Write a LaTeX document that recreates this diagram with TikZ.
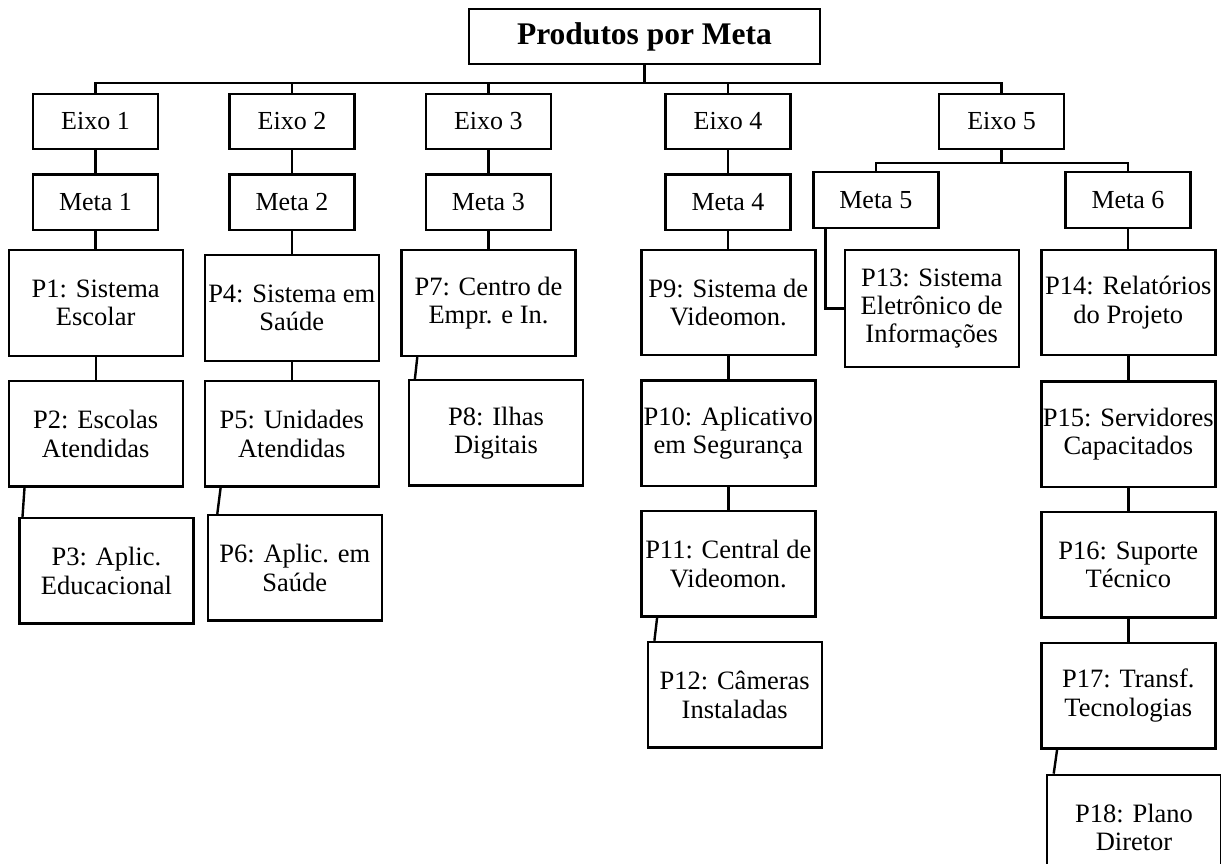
\documentclass[tikz,border=0pt]{standalone}
\usepackage{fontspec}
\setmainfont{Liberation Serif}
\usetikzlibrary{positioning}

\begin{document}
\begin{tikzpicture}[x=1pt, y=-1pt, line width=2.4pt,
    box/.style={rectangle, draw, inner sep=0pt, align=center, font=\fontsize{26.5}{28.4}\selectfont},
    axis/.style={box, minimum width=125pt, minimum height=55.5pt, font=\fontsize{26}{28.4}\selectfont},
    prod/.style={box, minimum width=174pt, minimum height=105.5pt}]
    \clip (0,0) rectangle (1221,863);
    \node[box, minimum width=351pt, minimum height=55pt, font=\fontsize{31.5}{34}\selectfont\bfseries] (title) at (644.5,36.5) {Produtos por Meta};
    % eixos e metas
    \node[axis] (eixo1) at (95.5,121.5) {Eixo 1};
    \node[axis] (eixo2) at (292,121.5) {Eixo 2};
    \node[axis] (eixo3) at (488.3,121.5) {Eixo 3};
    \node[axis] (eixo4) at (728,121.5) {Eixo 4};
    \node[axis] (eixo5) at (1001.6,121.5) {Eixo 5};
    \node[axis, below=23pt of eixo1] (meta1) {Meta 1};
    \node[axis, below=23pt of eixo2] (meta2) {Meta 2};
    \node[axis, below=23pt of eixo3] (meta3) {Meta 3};
    \node[axis, below=23pt of eixo4] (meta4) {Meta 4};
    \node[axis] (meta5) at (875.8,200) {Meta 5};
    \node[axis] (meta6) at (1128,200) {Meta 6};
    % produtos
    \node[prod] (p1) at (95.7,303) {P1: Sistema\\Escolar};
    \node[prod, below=23pt of p1] (p2) {P2: Escolas\\Atendidas};
    \node[prod, below=29pt of p2, xshift=10.7pt] (p3) {P3: Aplic.\\Educacional};
    \node[prod] (p4) at (291.8,308) {P4: Sistema em\\Saúde};
    \node[prod, below=18pt of p4] (p5) {P5: Unidades\\Atendidas};
    \node[prod, below=26pt of p5, xshift=3pt] (p6) {P6: Aplic. em\\Saúde};
    \node[prod] (p7) at (488.5,303) {P7: Centro de\\Empr. e In.};
    \node[prod, below=22pt of p7, xshift=7.5pt] (p8) {P8: Ilhas\\Digitais};
    \node[prod] (p9) at (728.3,302.5) {P9: Sistema de\\Videomon.};
    \node[prod, below=23pt of p9] (p10) {P10: Aplicativo\\em Segurança};
    \node[prod, below=22.5pt of p10] (p11) {P11: Central de\\Videomon.};
    \node[prod, below=23pt of p11, xshift=6.4pt] (p12) {P12: Câmeras\\Instaladas};
    \node[prod, minimum height=117pt] (p13) at (931.7,308.5) {P13: Sistema\\Eletrônico de\\Informações};
    \node[prod] (p14) at (1128.3,302.5) {P14: Relatórios\\do Projeto};
    \node[prod, below=24pt of p14] (p15) {P15: Servidores\\Capacitados};
    \node[prod, below=22.5pt of p15] (p16) {P16: Suporte\\Técnico};
    \node[prod, below=23pt of p16] (p17) {P17: Transf.\\Tecnologias};
    \node[prod, below=24pt of p17, xshift=5.7pt] (p18) {P18: Plano\\Diretor};
    % ligacoes
    \foreach \n in {1,...,5}
        \draw (title.south) -- ++(0,18) -| (eixo\n.north);
    \foreach \n in {1,...,4}
        \draw (eixo\n) -- (meta\n);
    \foreach \m in {meta5, meta6}
        \draw (eixo5.south) -- ++(0,12.7) -| (\m.north);
    \foreach \a/\b in {meta1/p1, meta2/p4, meta3/p7, meta4/p9, meta6/p14, p1/p2, p4/p5, p9/p10, p10/p11, p14/p15, p15/p16, p16/p17}
        \draw (\a.south) -- (\a.south |- \b.north);
    \draw ([xshift=13.5pt]meta5.south west) |- (p13.west);
    \foreach \a/\b/\s in {p2/p3/4.3pt, p5/p6/10.7pt, p7/p8/7.1pt, p11/p12/7.9pt, p17/p18/7.9pt}
        \draw ([xshift=17pt]\a.south west) -- ([xshift=\s]\b.north west);
\end{tikzpicture}
\end{document}
